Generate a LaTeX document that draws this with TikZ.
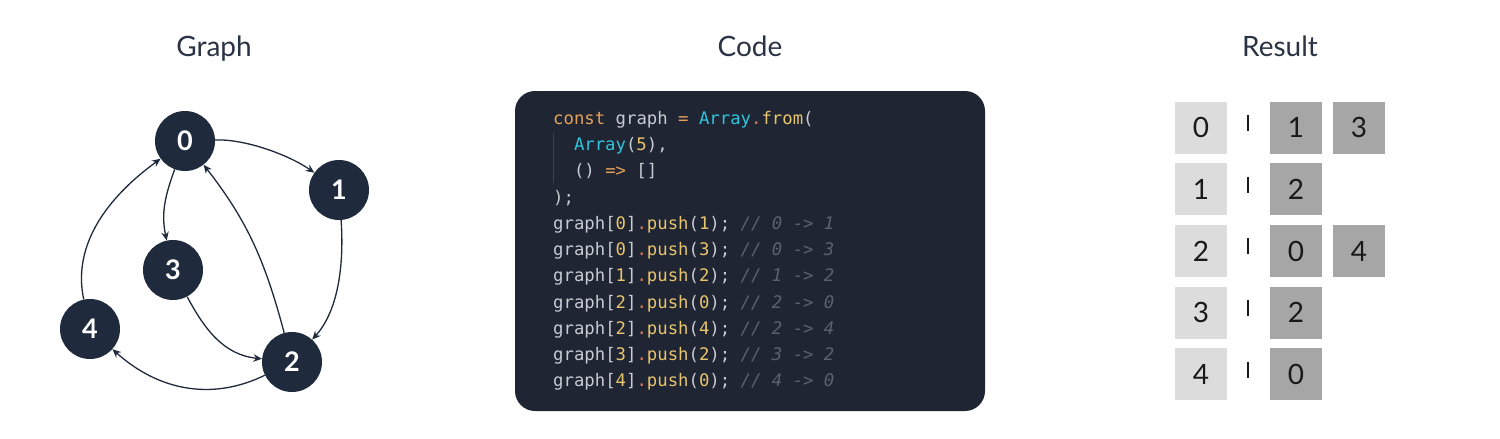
\documentclass[tikz,border=0pt]{standalone}
\usepackage{fontspec}
\setmainfont{Lato}
\newfontfamily\codefont{DejaVu Sans Mono}
\usetikzlibrary{arrows.meta}
\definecolor{navy}{HTML}{1F2A3D}
\definecolor{titlec}{HTML}{2A3344}
\definecolor{codebg}{HTML}{1F2532}
\definecolor{codetx}{HTML}{C8CBD2}
\definecolor{codeor}{HTML}{E4A15A}
\definecolor{codedot}{HTML}{E07A5A}
\definecolor{codeye}{HTML}{E8C46E}
\definecolor{codecy}{HTML}{2EC4DC}
\definecolor{codecm}{HTML}{5A6270}
\definecolor{guide}{HTML}{3A4150}
\definecolor{boxlight}{HTML}{DCDCDC}
\definecolor{boxdark}{HTML}{A6A6A6}
\definecolor{digitc}{HTML}{1A1A1A}
\newcommand\cOr[1]{\textcolor{codeor}{#1}}
\newcommand\cDt[1]{\textcolor{codedot}{#1}}
\newcommand\cYe[1]{\textcolor{codeye}{#1}}
\newcommand\cCy[1]{\textcolor{codecy}{#1}}
\newcommand\cCm[1]{\textcolor{codecm}{\itshape #1}}
\newcommand\pushline[3]{graph[\cYe{#1}]\cDt{.}\cYe{push}(\cYe{#2}); \cCm{// #1 -> #2}}
\tikzset{
  title/.style={anchor=base, inner sep=0, text=titlec, font=\fontsize{28}{32}\selectfont},
  vert/.style={circle, fill=navy, minimum size=60pt, inner sep=0, text=white, font=\fontsize{27}{30}\selectfont\bfseries},
  edge/.style={draw=navy, line width=1.3pt, -{Stealth[length=8.5pt,width=7.5pt]}},
  codeln/.style={anchor=base west, inner sep=0, text=codetx, font=\codefont\fontsize{17.3}{20}\selectfont},
  keybox/.style={rectangle, fill=boxlight, minimum size=52pt, inner sep=0, text=digitc, font=\fontsize{28}{30}\selectfont},
  valbox/.style={rectangle, fill=boxdark, minimum size=52pt, inner sep=0, text=digitc, font=\fontsize{28}{30}\selectfont},
  sepbar/.style={draw=digitc, line width=1.7pt}
}
\begin{document}
\begin{tikzpicture}[x=1pt,y=1pt]
\useasboundingbox[fill=white] (0,0) rectangle (1500,-439);
% titles
\node[title] (tg) at (214,-56.7) {Graph};
\node[title] (tc) at (750,-56.7) {Code};
\node[title] (tr) at (1280,-56.7) {Result};
% graph
\node[vert] (v0) at (185,-141) {0};
\node[vert] (v1) at (339,-190) {1};
\node[vert] (v3) at (173,-270) {3};
\node[vert] (v4) at (90,-329) {4};
\node[vert] (v2) at (292,-362) {2};
\draw[edge] (v0) to[out=2,in=145,looseness=0.75] (v1);
\draw[edge] (v0) to[out=250,in=102] (v3);
\draw[edge] (v1) to[out=274,in=48,looseness=0.85] (v2);
\draw[edge] (v2) to[out=105,in=308] (v0);
\draw[edge] (v3) to[out=298,in=174] (v2);
\draw[edge] (v2) to[out=206,in=318] (v4);
\draw[edge] (v4) to[out=102,in=216,looseness=0.95] (v0);
% code
\node[fill=codebg, rounded corners=20pt, minimum width=470pt, minimum height=320pt, inner sep=0] (cb) at (750,-251) {};
\coordinate (gtop) at (553.3,-133);
\coordinate (gbot) at (553.3,-183);
\draw[guide, line width=1pt] (gtop) -- (gbot);
\node[codeln] (l1) at (553,-124.3) {\cOr{const} graph \cOr{=} \cCy{Array}\cDt{.}\cYe{from}(};
\node[codeln] (l2) at (573.8,-150.5) {\cCy{Array}(\cYe{5}),};
\node[codeln] (l3) at (573.8,-176.8) {() \cOr{=>} []};
\node[codeln] (l4) at (553,-203.0) {);};
\node[codeln] (l5) at (553,-229.3) {\pushline{0}{1}{}};
\node[codeln] (l6) at (553,-255.5) {\pushline{0}{3}{}};
\node[codeln] (l7) at (553,-281.7) {\pushline{1}{2}{}};
\node[codeln] (l8) at (553,-308.0) {\pushline{2}{0}{}};
\node[codeln] (l9) at (553,-334.2) {\pushline{2}{4}{}};
\node[codeln] (l10) at (553,-360.5) {\pushline{3}{2}{}};
\node[codeln] (l11) at (553,-386.7) {\pushline{4}{0}{}};
% result
\foreach \i/\k in {0/0,1/1,2/2,3/3,4/4}{
  \node[keybox] (k\i) at (1201,{-127.7-61.65*\i}) {\k};
  \coordinate (st\i) at (1248.3,{-115-61.65*\i});
  \coordinate (sb\i) at (1248.3,{-131-61.65*\i});
  \draw[sepbar] (st\i) -- (sb\i);
}
\node[valbox] (a0) at (1296,-127.7) {1};
\node[valbox] (b0) at (1359,-127.7) {3};
\node[valbox] (a1) at (1296,-189.35) {2};
\node[valbox] (a2) at (1296,-251.0) {0};
\node[valbox] (b2) at (1359,-251.0) {4};
\node[valbox] (a3) at (1296,-312.65) {2};
\node[valbox] (a4) at (1296,-374.3) {0};
\end{tikzpicture}
\end{document}
